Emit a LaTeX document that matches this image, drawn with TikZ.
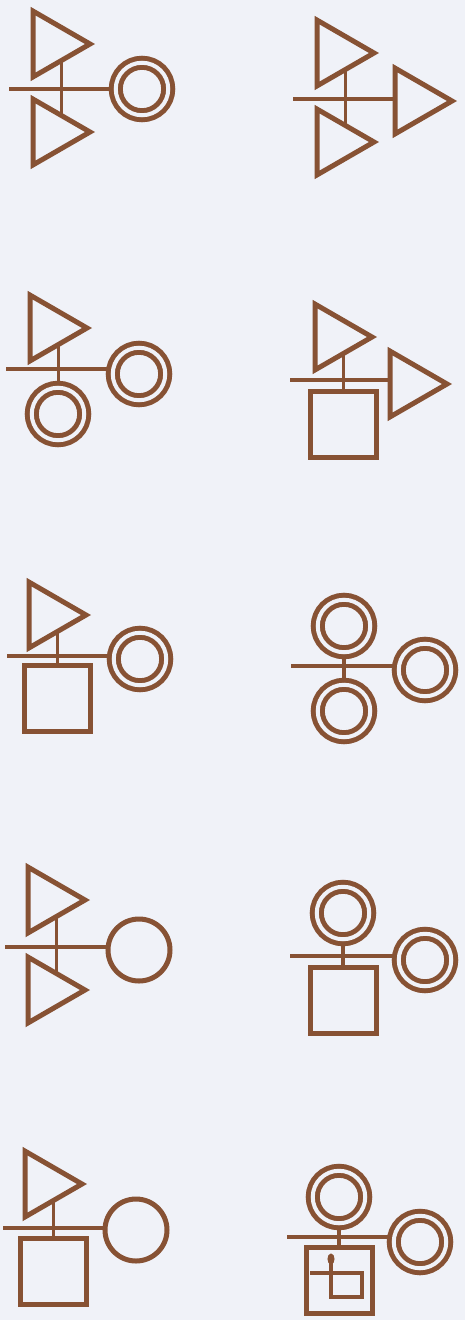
\documentclass[tikz,border=0pt]{standalone}
\usetikzlibrary{shapes.geometric,backgrounds,calc}
\definecolor{brn}{RGB}{135,82,52}
\definecolor{bgc}{RGB}{240,242,248}
\tikzset{
  conn/.style={draw=brn,line width=3.8pt},
  tri/.style={draw=brn,line width=5pt,regular polygon,regular polygon sides=3,
     shape border rotate=-90,minimum size=76pt,inner sep=0pt,outer sep=0pt},
  sq/.style={draw=brn,line width=5pt,rectangle,minimum size=66pt,inner sep=0pt,outer sep=0pt},
  circ/.style={draw=brn,line width=5pt,circle,minimum size=62pt,inner sep=0pt,outer sep=0pt},
  dcirc/.style={draw=brn,double=bgc,double distance=4pt,line width=5pt,circle,
     minimum size=52.5pt,inner sep=0pt,outer sep=0pt},
  glyph/.style={draw=brn,line width=4.5pt}
}
\begin{document}
\begin{tikzpicture}[x=1pt,y=-1pt]
\useasboundingbox (0,0) rectangle (465,1320);
% ---------- figure 1
\node[tri] (a1) at (52,44) {};
\node[tri] (a2) at (52,132) {};
\node[dcirc] (a3) at (142,89) {};
\coordinate (ha) at (9,89);
% ---------- figure 2
\node[tri] (b1) at (336,53) {};
\node[tri] (b2) at (336,142) {};
\node[tri] (b3) at (414,101) {};
\coordinate (hb) at (293,99);
% ---------- figure 3
\node[tri] (c1) at (49,328) {};
\node[dcirc] (c2) at (58,414) {};
\node[dcirc] (c3) at (139,374) {};
\coordinate (hc) at (6,369);
% ---------- figure 4
\node[tri] (d1) at (334,337) {};
\node[sq] (d2) at (343,424) {};
\node[tri] (d3) at (409,384) {};
\coordinate (hd) at (290,380);
% ---------- figure 5
\node[tri] (e1) at (48,615) {};
\node[sq] (e2) at (57,698) {};
\node[dcirc] (e3) at (140,659) {};
\coordinate (he) at (7,656);
% ---------- figure 6
\node[dcirc] (f1) at (344,626) {};
\node[dcirc] (f2) at (344,711) {};
\node[dcirc] (f3) at (425,670) {};
\coordinate (hf) at (291,666);
% ---------- figure 7
\node[tri] (g1) at (47,900) {};
\node[tri] (g2) at (47,990) {};
\node[circ] (g3) at (139,950) {};
\coordinate (hg) at (5,947);
% ---------- figure 8
\node[dcirc] (k1) at (343,913) {};
\node[sq] (k2) at (343,1000) {};
\node[dcirc] (k3) at (425,960) {};
\coordinate (hk) at (290,956);
% ---------- figure 9
\node[tri] (m1) at (44,1184) {};
\node[sq] (m2) at (53,1271) {};
\node[circ] (m3) at (136,1230) {};
\coordinate (hm) at (3,1228);
% ---------- figure 10
\node[dcirc] (n1) at (339,1197) {};
\node[sq] (n2) at (339,1280) {};
\node[dcirc] (n3) at (420,1242) {};
\coordinate (hn) at (287,1237);
\draw[glyph,line join=miter] (310,1273) -- (362,1273) -- (362,1297) -- (331,1297) -- (331,1262);
\node[draw=brn,fill=brn,ellipse,line width=1pt,minimum width=6pt,minimum height=10pt,inner sep=0pt] (tip) at (331,1259) {};
% ---------- connectors (behind)
\begin{scope}[on background layer]
\fill[bgc] (0,0) rectangle (465,1320);
% fig 1
\draw[conn] (ha) -- (ha -| a3.west);
\draw[conn] (a1.side 3) -- (a1.side 3 |- a2.side 1);
% fig 2
\draw[conn] (hb) -- (hb -| b3.west);
\draw[conn] (b1.side 3) -- (b1.side 3 |- b2.side 1);
% fig 3
\draw[conn] (hc) -- (hc -| c3.west);
\draw[conn] (c1.side 3) -- (c1.side 3 |- c2.north);
% fig 4
\draw[conn] (hd) -- (hd -| d3.west);
\draw[conn] (d1.side 3) -- (d1.side 3 |- d2.north);
% fig 5
\draw[conn] (he) -- (he -| e3.west);
\draw[conn] (e1.side 3) -- (e1.side 3 |- e2.north);
% fig 6
\draw[conn] (hf) -- (hf -| f3.west);
\draw[conn] (f1.south) -- (f2.north);
% fig 7
\draw[conn] (hg) -- (hg -| g3.west);
\draw[conn] (g1.side 3) -- (g1.side 3 |- g2.side 1);
% fig 8
\draw[conn] (hk) -- (hk -| k3.west);
\draw[conn] (k1.south) -- (k2.north);
% fig 9
\draw[conn] (hm) -- (hm -| m3.west);
\draw[conn] (m1.side 3) -- (m1.side 3 |- m2.north);
% fig 10
\draw[conn] (hn) -- (hn -| n3.west);
\draw[conn] (n1.south) -- (n2.north);
\end{scope}
\end{tikzpicture}
\end{document}
